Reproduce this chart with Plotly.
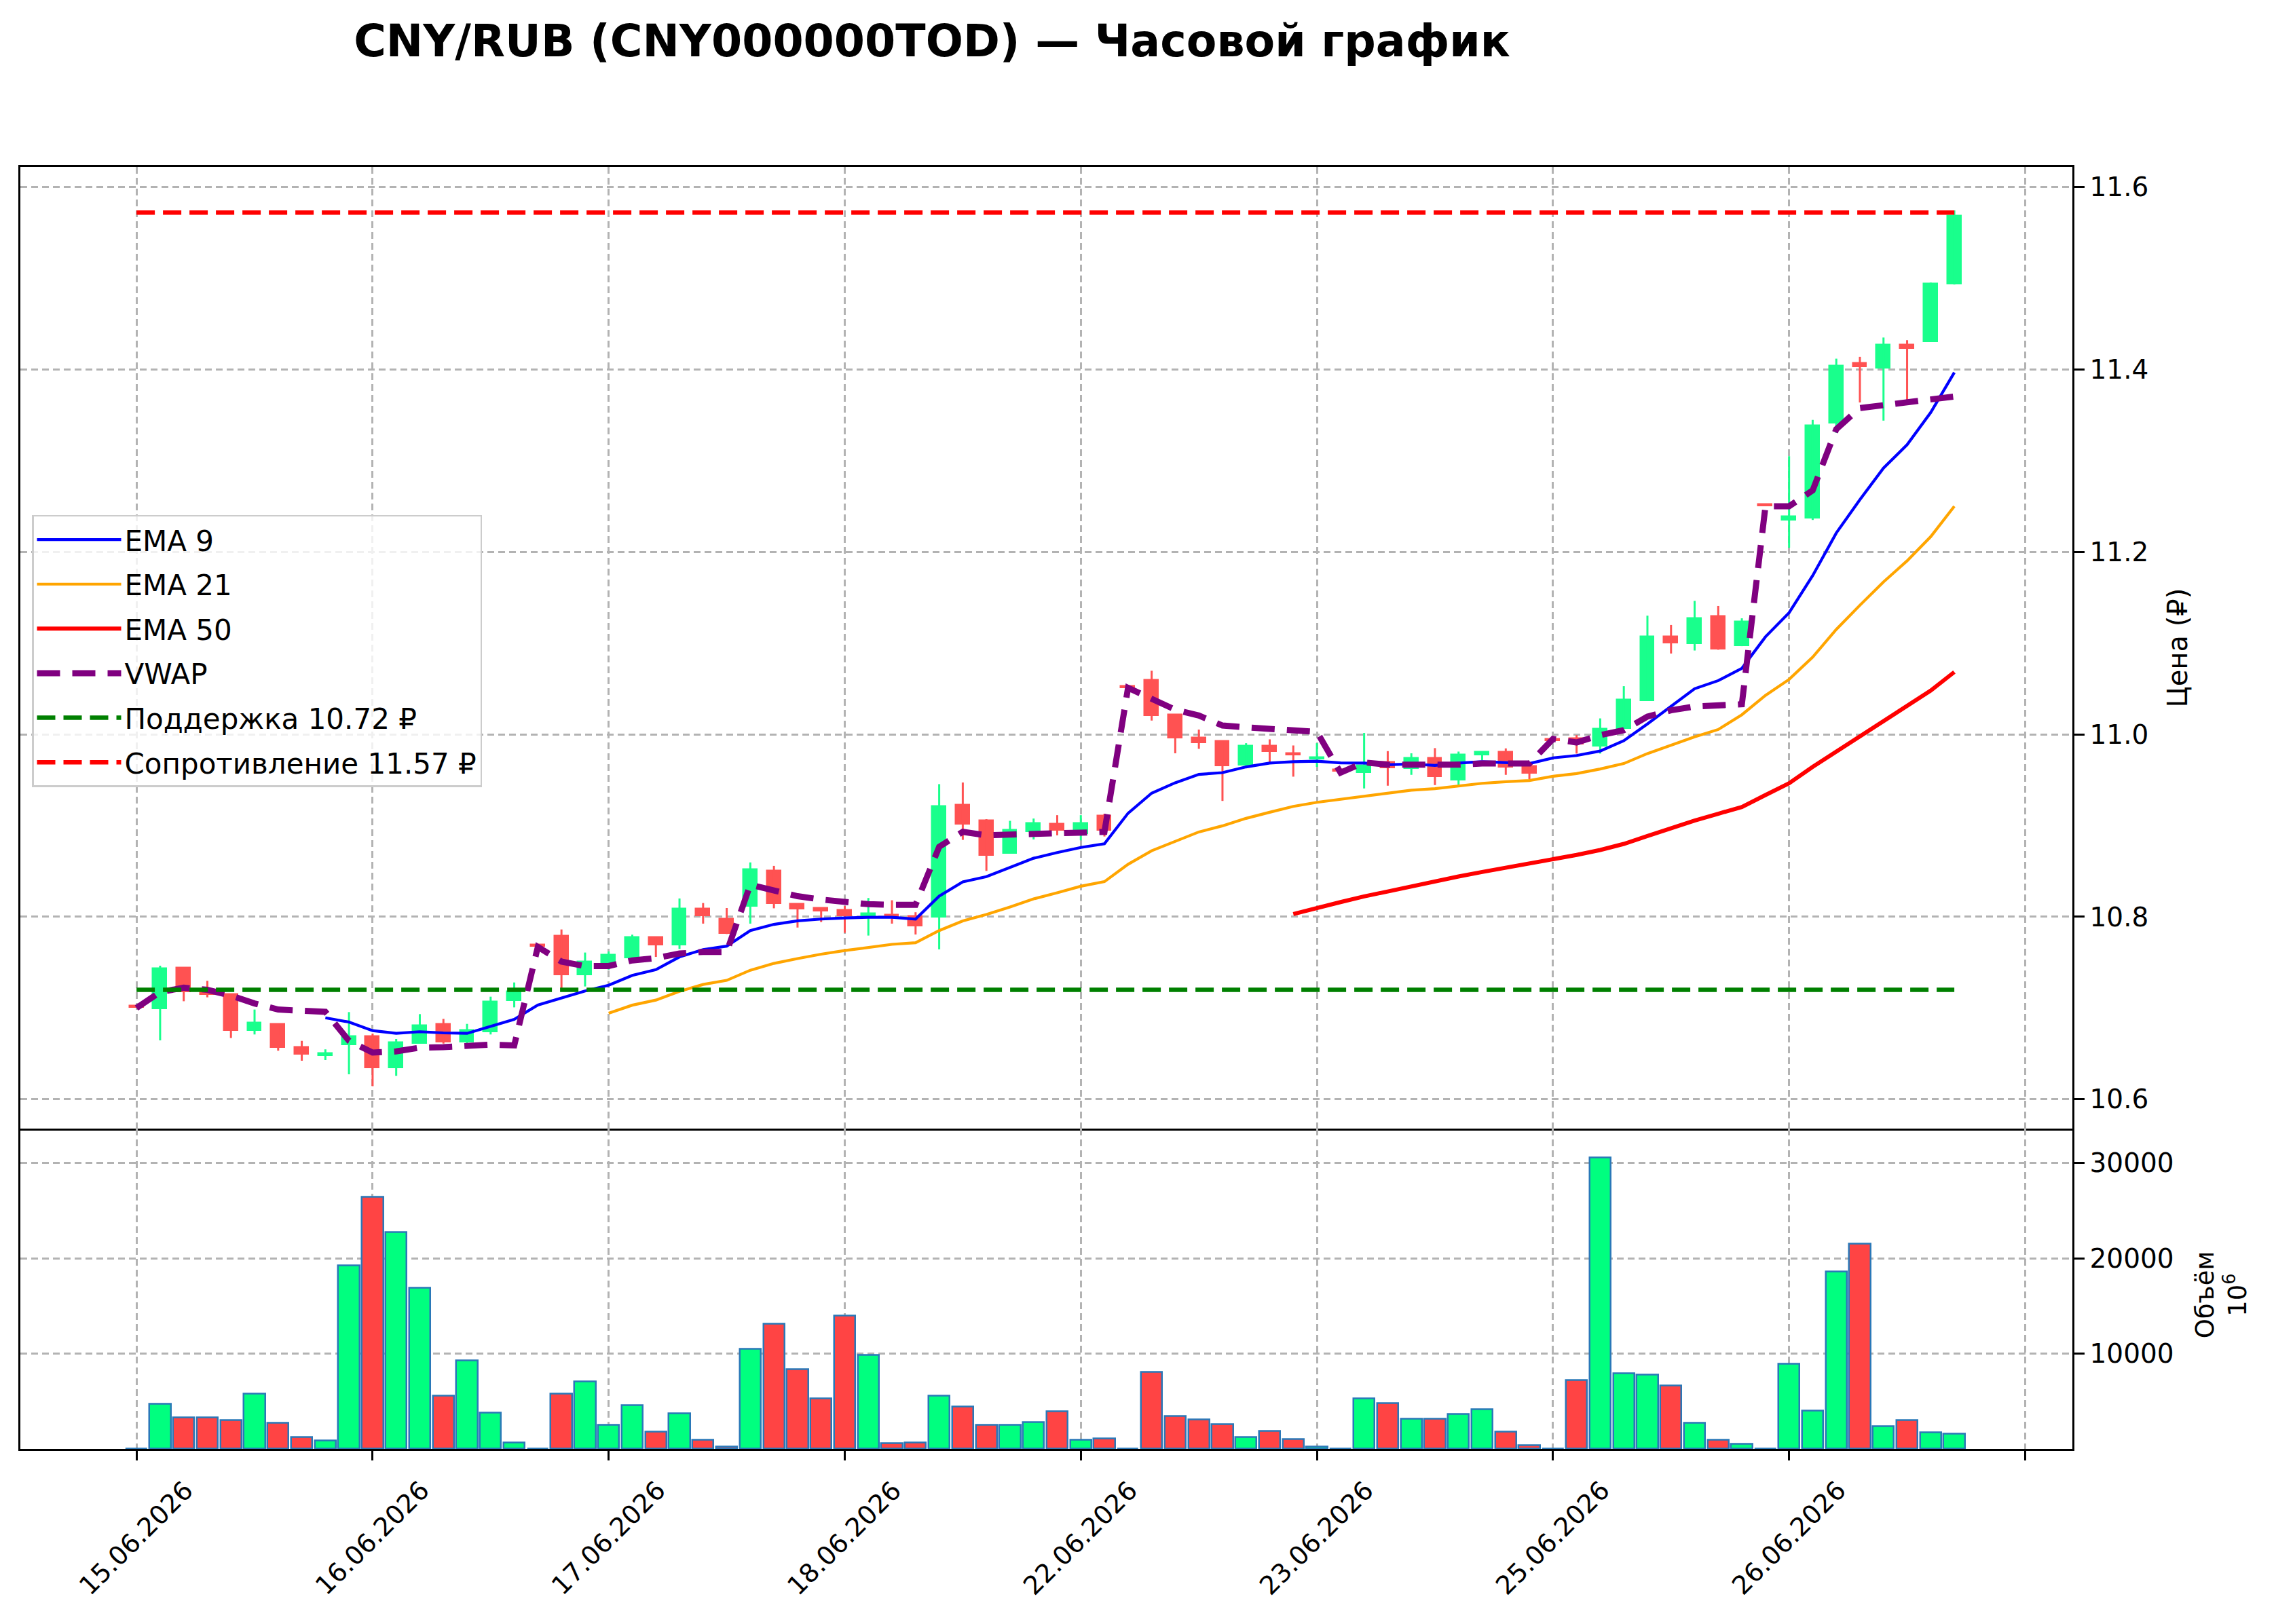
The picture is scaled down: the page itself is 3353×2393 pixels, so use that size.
import plotly.graph_objects as go

# ---------------- data ----------------
idx = list(range(78))

opens = [10.700, 10.699, 10.7439, 10.7199, 10.7149, 10.6752, 10.6824, 10.6568, 10.6471, 10.6591,
         10.6687, 10.6337, 10.661, 10.6821, 10.662, 10.6732, 10.7074, 10.767, 10.7794, 10.736,
         10.746, 10.7542, 10.7779, 10.7686, 10.8088, 10.7975, 10.8113, 10.8503, 10.8138, 10.8093,
         10.8075, 10.800, 10.802, 10.8005, 10.7995, 10.9228, 10.9057, 10.8692, 10.8931, 10.9019,
         10.8906, 10.9107, 11.0504, 11.0596, 11.0213, 10.996, 10.9923, 10.9655, 10.9873, 10.9792,
         10.9722, 10.9593, 10.958, 10.9692, 10.9623, 10.9739, 10.9494, 10.9772, 10.9809, 10.965,
         10.9928, 10.9959, 10.987, 11.0061, 11.0366, 11.1069, 11.0988, 11.1293, 11.0967, 11.25,
         11.2341, 11.237, 11.3407, 11.4069, 11.4008, 11.4268, 11.4301, 11.4931]
highs = [10.700, 10.7464, 10.7439, 10.7298, 10.7149, 10.6983, 10.6824, 10.664, 10.6546, 10.6955,
         10.672, 10.666, 10.6933, 10.6881, 10.6826, 10.7124, 10.728, 10.767, 10.7861, 10.7608,
         10.762, 10.7804, 10.778, 10.8201, 10.8151, 10.8096, 10.8596, 10.8558, 10.8138, 10.81,
         10.8118, 10.8206, 10.8181, 10.805, 10.9454, 10.9472, 10.907, 10.9052, 10.9077, 10.9114,
         10.9114, 10.913, 11.0504, 11.0697, 11.0213, 11.0052, 10.9923, 10.9903, 10.9945, 10.9878,
         10.9903, 10.9593, 11.0015, 10.9816, 10.9792, 10.9849, 10.9811, 10.9804, 10.9846, 10.965,
         10.9928, 10.9992, 11.0175, 11.0528, 11.1301, 11.1199, 11.1463, 11.1407, 11.1272, 11.25,
         11.3049, 11.3447, 11.4118, 11.4138, 11.435, 11.4321, 11.4951, 11.5744]
lows = [10.700, 10.6645, 10.7074, 10.7117, 10.6672, 10.671, 10.6531, 10.6422, 10.6429, 10.6273,
        10.6144, 10.6256, 10.661, 10.661, 10.6586, 10.671, 10.7007, 10.767, 10.7199, 10.7236,
        10.742, 10.7509, 10.756, 10.7648, 10.7925, 10.7811, 10.7925, 10.8093, 10.7882, 10.7942,
        10.7824, 10.7794, 10.7925, 10.7806, 10.7643, 10.8843, 10.8503, 10.8692, 10.8848, 10.8893,
        10.8838, 10.888, 11.0504, 11.0151, 10.9792, 10.9841, 10.927, 10.9655, 10.9692, 10.9536,
        10.9643, 10.9593, 10.9407, 10.9437, 10.9556, 10.9444, 10.9444, 10.9717, 10.9556, 10.9506,
        10.9928, 10.9789, 10.9789, 11.0061, 11.0366, 11.0886, 11.0919, 11.0927, 11.0967, 11.25,
        11.2045, 11.235, 11.3305, 11.3638, 11.3439, 11.3638, 11.4301, 11.4931]
closes = [10.700, 10.7434, 10.7174, 10.7141, 10.6752, 10.6836, 10.6561, 10.6486, 10.6501, 10.6687,
          10.6342, 10.6625, 10.6809, 10.6625, 10.6759, 10.7067, 10.7179, 10.767, 10.736, 10.7509,
          10.758, 10.7779, 10.7686, 10.8088, 10.8008, 10.7811, 10.8521, 10.8138, 10.808, 10.8058,
          10.8008, 10.8038, 10.7987, 10.7894, 10.9213, 10.9014, 10.8667, 10.8951, 10.9024, 10.8943,
          10.9026, 10.8943, 11.0504, 11.0201, 10.9953, 10.9903, 10.965, 10.9873, 10.9809, 10.9767,
          10.9737, 10.9593, 10.9655, 10.9625, 10.9737, 10.9531, 10.9774, 10.9804, 10.9638, 10.9568,
          10.9928, 10.989, 11.0061, 11.0378, 11.1069, 11.0996, 11.1272, 11.0927, 11.1232, 11.25,
          11.239, 11.3386, 11.4037, 11.4028, 11.4268, 11.4228, 11.4939, 11.5683]

volumes = [0, 4730, 3310, 3310, 3025, 5800, 2740, 1245, 890, 19230,
           26440, 22740, 16900, 5560, 9260, 3780, 650, 0, 5800, 7060,
           2500, 4570, 1790, 3710, 940, 250, 10470, 13100, 8340, 5280,
           13960, 9830, 580, 650, 5560, 4420, 2500, 2500, 2800, 3920,
           940, 1070, 0, 8070, 3420, 3060, 2560, 1230, 1850, 1000,
           240, 0, 5270, 4790, 3130, 3130, 3630, 4150, 1780, 360,
           0, 7210, 30560, 7900, 7760, 6640, 2730, 950, 520, 0,
           8900, 3990, 18600, 21520, 2350, 2990, 1710, 1590]

N = None
ema9 = [N] * 8 + [10.6893, 10.6846,
        10.6752, 10.6722, 10.674, 10.6727, 10.6722, 10.6801, 10.6876, 10.7032, 10.7107, 10.7186,
        10.7250, 10.7358, 10.7421, 10.756, 10.764, 10.7678, 10.7849, 10.7917, 10.7955, 10.7975,
        10.7987, 10.7995, 10.7995, 10.7975, 10.8226, 10.8382, 10.844, 10.8541, 10.8642, 10.8704,
        10.876, 10.880, 10.9135, 10.9355, 10.9469, 10.9561, 10.958, 10.9643, 10.9685, 10.970,
        10.9705, 10.9687, 10.9685, 10.9667, 10.9675, 10.966, 10.9685, 10.970, 10.9692, 10.968,
        10.9742, 10.9768, 10.9817, 10.9931, 11.0114, 11.0305, 11.05, 11.0589, 11.0724, 11.1069,
        11.1333, 11.174, 11.2207, 11.2573, 11.2919, 11.3175, 11.3528, 11.3967]
ema21 = [N] * 20 + [
        10.6943, 10.7031, 10.7087, 10.7182, 10.7258, 10.7303, 10.7414, 10.7489, 10.7542, 10.759,
        10.763, 10.7665, 10.7698, 10.7716, 10.7849, 10.7955, 10.8025, 10.8108, 10.8196, 10.8264,
        10.8335, 10.8385, 10.8575, 10.8724, 10.8831, 10.893, 10.8997, 10.9079, 10.9146, 10.921,
        10.9255, 10.929, 10.932, 10.9355, 10.9388, 10.9404, 10.9436, 10.9463, 10.948, 10.9494,
        10.954, 10.957, 10.962, 10.968, 10.9789, 10.9882, 10.9972, 11.0053, 11.0215, 11.0427,
        11.0602, 11.0846, 11.115, 11.1415, 11.1671, 11.1902, 11.2167, 11.25]
ema50 = [N] * 49 + [10.803,
        10.8099, 10.8161, 10.8223, 10.828, 10.8335, 10.8385, 10.8442, 10.8491, 10.8539, 10.8576,
        10.8628, 10.8678, 10.8732, 10.8799, 10.8886, 10.8973, 10.9055, 10.913, 10.9204, 10.9335,
        10.9464, 10.9643, 10.9809, 10.998, 11.0142, 11.0309, 11.048, 11.0683]
vwap = [10.700, 10.7174, 10.7223, 10.7199, 10.7136, 10.705, 10.6983, 10.6963, 10.6958, 10.664,
        10.6511, 10.6524, 10.6566, 10.6571, 10.6583, 10.6598, 10.659, 10.767, 10.7509, 10.7459,
        10.746, 10.7522, 10.7547, 10.7597, 10.7615, 10.7615, 10.8352, 10.8294, 10.8226, 10.8189,
        10.8158, 10.8138, 10.8131, 10.8131, 10.8767, 10.8931, 10.8893, 10.8898, 10.8913, 10.8918,
        10.8923, 10.893, 11.051, 11.0387, 11.027, 11.0206, 11.0097, 11.0077, 11.0057, 11.004,
        11.0027, 10.958, 10.9692, 10.9667, 10.9667, 10.966, 10.9667, 10.968, 10.9685, 10.968,
        10.995, 10.9911, 10.9992, 11.0045, 11.0195, 11.0264, 11.0305, 11.0317, 11.033, 11.25,
        11.25, 11.2675, 11.3346, 11.3577, 11.361, 11.3638, 11.3671, 11.3703]

support = 10.72
resistance = 11.572

tick_pos = [0, 10, 20, 30, 40, 50, 60, 70, 80]
tick_labels = ["15.06.2026", "16.06.2026", "17.06.2026", "18.06.2026", "22.06.2026",
               "23.06.2026", "25.06.2026", "26.06.2026", ""]

# ---------------- styling ----------------
FONT = "DejaVu Sans"
GREEN_C = "#19ff8c"
RED_C = "#ff5252"
GREEN_V = "#00ff7f"
RED_V = "#ff4444"
GRID = "#b3b3b3"

up = [c > o for o, c in zip(opens, closes)]
body_base = [min(o, c) for o, c in zip(opens, closes)]
body_h = [max(abs(c - o), 0.0022) for o, c in zip(opens, closes)]
cand_col = [GREEN_C if u else RED_C for u in up]
vol_col = [GREEN_V if u else RED_V for u in up]

fig = go.Figure()


def wick_xy(flag):
    xs, ys = [], []
    for i, u in enumerate(up):
        if u == flag:
            xs += [idx[i], idx[i], None]
            ys += [lows[i], highs[i], None]
    return xs, ys


# candle bodies
fig.add_trace(go.Bar(x=idx, y=body_h, base=body_base, width=0.6,
                     marker=dict(color=cand_col, line=dict(color=cand_col, width=1.5)),
                     showlegend=False, hoverinfo="skip", xaxis="x", yaxis="y"))
# wicks
for flag, col in ((True, GREEN_C), (False, RED_C)):
    wx, wy = wick_xy(flag)
    fig.add_trace(go.Scatter(x=wx, y=wy, mode="lines", line=dict(color=col, width=3),
                             showlegend=False, hoverinfo="skip", xaxis="x", yaxis="y"))

# indicators
fig.add_trace(go.Scatter(x=idx, y=ema9, mode="lines", name="EMA 9",
                         line=dict(color="#0000ff", width=4.2), legendgroup="a"))
fig.add_trace(go.Scatter(x=idx, y=ema21, mode="lines", name="EMA 21",
                         line=dict(color="#ffa500", width=4.2), legendgroup="b"))
fig.add_trace(go.Scatter(x=idx, y=ema50, mode="lines", name="EMA 50",
                         line=dict(color="#ff0000", width=6), legendgroup="c"))
fig.add_trace(go.Scatter(x=idx, y=vwap, mode="lines", name="VWAP",
                         line=dict(color="#800080", width=9, dash="34px,18px"), legendgroup="d"))
fig.add_trace(go.Scatter(x=[idx[0], idx[-1]], y=[support, support], mode="lines",
                         name=f"Поддержка {support:.2f} ₽",
                         line=dict(color="#008000", width=6.5, dash="27px,12px"), legendgroup="e"))
fig.add_trace(go.Scatter(x=[idx[0], idx[-1]], y=[resistance, resistance], mode="lines",
                         name=f"Сопротивление {resistance:.2f} ₽",
                         line=dict(color="#ff0000", width=6.5, dash="27px,12px"), legendgroup="f"))

# volume
fig.add_trace(go.Bar(x=idx, y=volumes, width=0.9,
                     marker=dict(color=vol_col, line=dict(color="#2a78b8", width=2.5)),
                     showlegend=False, hoverinfo="skip", xaxis="x2", yaxis="y2"))

W, H = 3353, 2393
ML, MR, MT, MB = 30, 300, 246, 257.5
plot_w = W - ML - MR
plot_h = H - MT - MB

grid_common = dict(showgrid=True, gridcolor=GRID, gridwidth=2.5, griddash="10px,6px",
                   showline=True, linecolor="black", linewidth=2.5,
                   zeroline=False)

annotations = []
for p, t in zip(tick_pos, tick_labels):
    if t:
        annotations.append(dict(x=p, xref="x2", y=0, yref="paper", yshift=-36,
                                text=t, textangle=-45, showarrow=False,
                                xanchor="center", yanchor="top",
                                font=dict(family=FONT, size=38, color="black")))
annotations.append(dict(x=(3208 - ML) / plot_w, xref="paper", y=0.625, yref="paper",
                        text="Цена (₽)", textangle=-90, showarrow=False,
                        xanchor="center", yanchor="middle",
                        font=dict(family=FONT, size=40, color="black")))
annotations.append(dict(x=(3272 - ML) / plot_w, xref="paper", y=0.12, yref="paper",
                        text="Объём<br>10<sup>6</sup>", textangle=-90, showarrow=False,
                        xanchor="center", yanchor="middle",
                        font=dict(family=FONT, size=37, color="black")))

fig.update_layout(
    width=W, height=H, autosize=False,
    margin=dict(l=ML, r=MR, t=MT, b=MB, pad=0),
    paper_bgcolor="white", plot_bgcolor="white",
    font=dict(family=FONT, size=39, color="black"),
    barmode="overlay", bargap=0,
    title=dict(text="<b>CNY/RUB (CNY000000TOD) — Часовой график</b>",
               x=1373 / W, xref="container", xanchor="center",
               y=1 - 60 / H, yref="container", yanchor="middle",
               font=dict(family=FONT, size=65, color="black")),
    xaxis=dict(domain=[0, 1], anchor="y", range=[-4.92, 82.0], mirror=True,
               tickvals=tick_pos, showticklabels=False, ticks="", **grid_common),
    yaxis=dict(domain=[0.25, 1], anchor="x", side="right", range=[10.568, 11.622], mirror=True,
               tickvals=[10.6, 10.8, 11.0, 11.2, 11.4, 11.6], tickformat=".1f",
               ticks="outside", ticklen=15, tickwidth=2.5, tickcolor="black",
               tickfont=dict(family=FONT, size=39), **grid_common),
    xaxis2=dict(domain=[0, 1], anchor="y2", matches="x", range=[-4.92, 82.0], mirror=False,
                tickvals=tick_pos, showticklabels=False, ticks="outside",
                ticklen=14, tickwidth=2.5, tickcolor="black", **grid_common),
    yaxis2=dict(domain=[0, 0.25], anchor="x2", side="right", range=[0, 33616], mirror=True,
                tickvals=[10000, 20000, 30000], ticktext=["10000", "20000", "30000"],
                ticks="outside", ticklen=15, tickwidth=2.5, tickcolor="black",
                tickfont=dict(family=FONT, size=39), **grid_common),
    legend=dict(x=(47 - ML) / plot_w, y=(H - MB - 759) / plot_h, xanchor="left", yanchor="top",
                bgcolor="rgba(255,255,255,0.8)", bordercolor="#cccccc", borderwidth=2.5,
                font=dict(family=FONT, size=42, color="black"),
                tracegroupgap=8, itemwidth=124),
    annotations=annotations,
    showlegend=True,
)

fig.write_html("out.html")
